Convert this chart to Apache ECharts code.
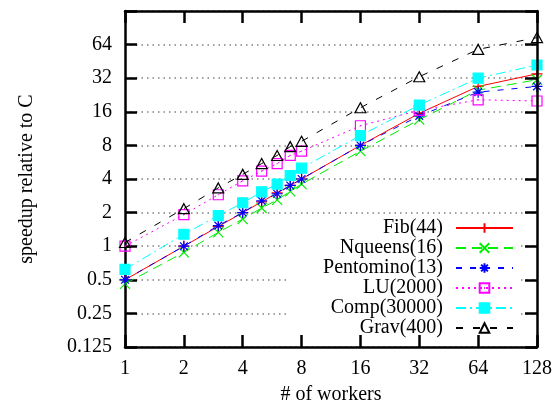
<!DOCTYPE html>
<html>
<head>
<meta charset="utf-8">
<script src="https://cdn.jsdelivr.net/npm/echarts@6/dist/echarts.min.js"></script>
<style>html,body{margin:0;padding:0;background:#fff}#c{width:555px;height:410px}</style>
</head>
<body>
<div id="c"></div>
<script>
const workers   = [1, 2, 3, 4, 5, 6, 7, 8, 16, 32, 64, 128];
const fib       = [0.5, 1.0, 1.5, 2.0, 2.5, 3.0, 3.5, 4.0, 8.0, 15.5, 27, 35];
const nqueens   = [0.46, 0.88, 1.33, 1.75, 2.2, 2.6, 3.1, 3.6, 7.1, 13.6, 25, 31];
const pentomino = [0.5, 1.0, 1.53, 2.0, 2.55, 2.95, 3.5, 4.0, 8.0, 14.7, 24, 27];
const lu        = [1.0, 1.92, 2.89, 3.85, 4.7, 5.5, 6.5, 7.1, 12, 16.5, 20.5, 20];
const comp      = [0.62, 1.28, 1.88, 2.45, 3.07, 3.6, 4.3, 5.0, 9.8, 18.4, 32, 42];
const grav      = [1.08, 2.17, 3.33, 4.4, 5.5, 6.5, 7.8, 8.7, 17.4, 33, 58, 74];
const seriesNames = ['Fib(44)', 'Nqueens(16)', 'Pentomino(13)', 'LU(2000)', 'Comp(30000)', 'Grav(400)'];
const xTicks = [1, 2, 4, 8, 16, 32, 64, 128];
const yTicks = [0.125, 0.25, 0.5, 1, 2, 4, 8, 16, 32, 64];

const FONT = 'Liberation Serif';
const pairs = arr => arr.map((v, i) => [workers[i], v]);

const styles = [
  {color: '#ff0000', dash: 'solid', symbol: 'path://M0,5H10M5,0V10', size: 11, fill: 'none'},
  {color: '#00ee00', dash: [10, 6], symbol: 'path://M0,0L10,10M10,0L0,10', size: 10, fill: 'none'},
  {color: '#0000ff', dash: [6, 8], symbol: 'path://M0,5H10M5,0V10M1.5,1.5L8.5,8.5M8.5,1.5L1.5,8.5', size: 11, fill: 'none'},
  {color: '#ff00ff', dash: [2, 4], symbol: 'path://M0,0H10V10H0ZM4.5,5H5.5', size: 10, fill: 'none'},
  {color: '#00ffff', dash: [10, 4, 2, 4], symbol: 'rect', size: 10, fill: '#00ffff'},
  {color: '#000000', dash: [7, 10], symbol: 'path://M5,0L10,9H0Z', size: [11, 10], fill: 'none'}
];
const values = [fib, nqueens, pentomino, lu, comp, grav];

const series = values.map((vals, i) => {
  const s = styles[i];
  return {
    name: seriesNames[i],
    type: 'line',
    data: pairs(vals),
    symbol: s.symbol,
    symbolSize: s.size,
    showAllSymbol: true,
    lineStyle: {color: s.color, width: 1, type: s.dash},
    itemStyle: {color: s.fill, borderColor: s.color, borderWidth: 1.2},
    emphasis: {disabled: true},
    z: 2 + i
  };
});

const axisLineStyle = {color: '#000', width: 2.5};
const tick = {show: true, inside: true, length: 12, lineStyle: {color: '#000', width: 2.5}};

const fmtY = v => {
  if (v > 100) return '';
  if (v < 1) return String(+v.toFixed(3));
  return String(Math.round(v));
};

const chart = echarts.init(document.getElementById('c'), null, {renderer: 'canvas'});
chart.setOption({
  animation: false,
  backgroundColor: '#fff',
  textStyle: {fontFamily: FONT},
  grid: {left: 125, right: 16, top: 11, bottom: 59},
  legend: {
    data: seriesNames,
    orient: 'vertical',
    align: 'right',
    right: 35,
    top: 218,
    padding: [0, 6, 0, 34],
    itemGap: 0,
    itemWidth: 57,
    itemHeight: 12,
    backgroundColor: '#fff',
    textStyle: {fontFamily: FONT, fontSize: 20, color: '#000', lineHeight: 20, padding: [0, 8, 0, 0]},
    selectedMode: false
  },
  xAxis: [{
    type: 'log', logBase: 2, min: 1, max: 128, interval: 1,
    name: '# of workers', nameLocation: 'middle', nameGap: 38,
    nameTextStyle: {fontFamily: FONT, fontSize: 20, color: '#000'},
    axisLine: {show: true, lineStyle: axisLineStyle},
    axisTick: tick,
    axisLabel: {fontFamily: FONT, fontSize: 20, color: '#000', margin: 12, showMinLabel: true, showMaxLabel: true,
      formatter: v => String(Math.round(v))},
    splitLine: {show: false},
    z: 10
  }, {
    type: 'log', logBase: 2, min: 1, max: 128, interval: 1, position: 'top',
    axisLine: {show: true, lineStyle: axisLineStyle},
    axisTick: tick,
    axisLabel: {show: false},
    splitLine: {show: false},
    z: 10
  }],
  yAxis: [{
    type: 'log', logBase: 2, min: 0.125, max: 128, interval: 1,
    name: 'speedup relative to C', nameLocation: 'middle', nameGap: 88,
    nameTextStyle: {fontFamily: FONT, fontSize: 20, color: '#000'},
    axisLine: {show: true, lineStyle: axisLineStyle},
    axisTick: tick,
    axisLabel: {fontFamily: FONT, fontSize: 20, color: '#000', margin: 13, showMinLabel: true, formatter: fmtY},
    splitLine: {show: true, lineStyle: {color: '#808080', width: 1.5, type: [1.5, 4]}},
    z: 0
  }, {
    type: 'log', logBase: 2, min: 0.125, max: 128, interval: 1, position: 'right',
    axisLine: {show: true, lineStyle: axisLineStyle},
    axisTick: tick,
    axisLabel: {show: false},
    splitLine: {show: false},
    z: 10
  }],
  series: series
});
</script>
</body>
</html>
